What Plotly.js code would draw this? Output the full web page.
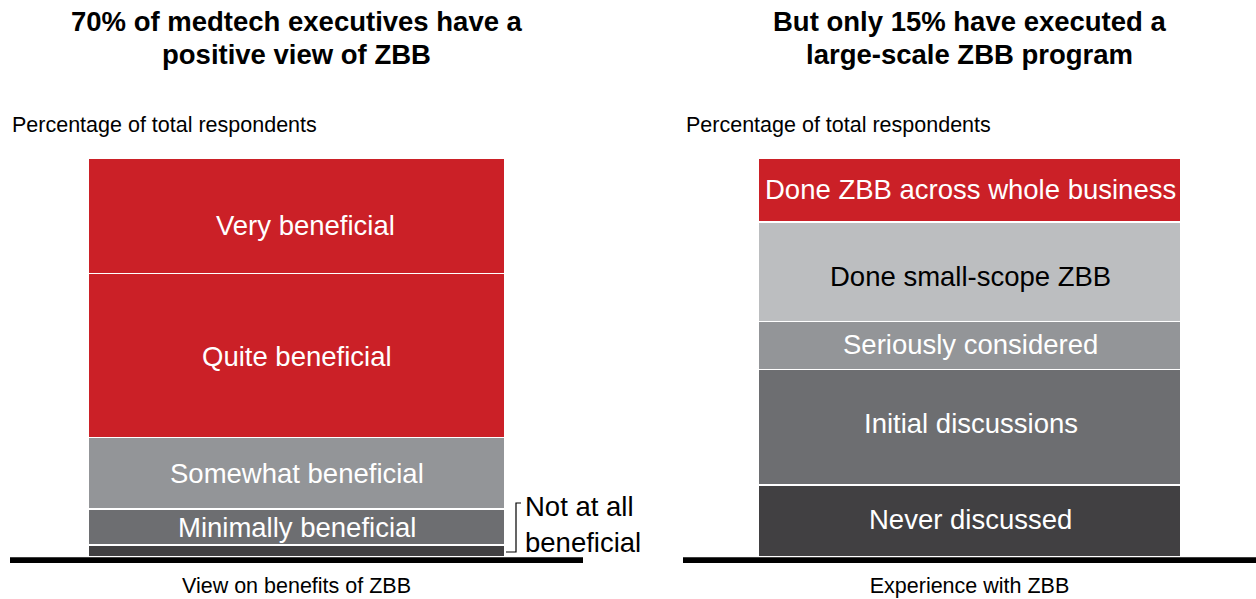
<!DOCTYPE html>
<html><head><meta charset="utf-8">
<script src="https://cdn.plot.ly/plotly-3.0.1.min.js"></script>
<style>html,body{margin:0;padding:0;background:#fff}#chart{width:1256px;height:599px}</style>
</head><body><div id="chart"></div>
<script>
// ---- data ----
const leftCategory = ["View on benefits of ZBB"];
const leftSegments = ["Not at all beneficial", "Minimally beneficial", "Somewhat beneficial", "Quite beneficial", "Very beneficial"];
const leftValues = [3, 9, 18, 41, 29];
const leftInsideLabel = [false, true, true, true, true];

const rightCategory = ["Experience with ZBB"];
const rightSegments = ["Never discussed", "Initial discussions", "Seriously considered", "Done small-scope ZBB", "Done ZBB across whole business"];
const rightValues = [18, 29, 12, 25, 16];

const leftTitle = ["70% of medtech executives have a", "positive view of ZBB"];
const rightTitle = ["But only 15% have executed a", "large-scale ZBB program"];
const subtitle = "Percentage of total respondents";
const outsideLabel = "Not at all<br>beneficial";

// ---- styles ----
const FONT = "Liberation Sans, Arial, Helvetica, sans-serif";
const LABEL_SIZE = 27.5;
const leftColors = ["#414042", "#6D6E71", "#939598", "#CB2027", "#CB2027"];
const leftTextColors = ["#ffffff", "#ffffff", "#ffffff", "#ffffff", "#ffffff"];
const leftLabelShift = [[0, 0], [0, 0], [0, 0], [0, -1], [9, -10]];   // [xshift px, yshift px]
const rightColors = ["#414042", "#6D6E71", "#939598", "#BCBEC0", "#CB2027"];
const rightTextColors = ["#ffffff", "#ffffff", "#ffffff", "#000000", "#ffffff"];
const rightLabelShift = [[1, 2], [1, 4], [1, 1], [1, -5], [1, 0]];

const traces = [];
const annotations = [];

function addStack(cat, names, values, colors, textColors, shifts, showLabel, width, xa, ya) {
  let base = 0;
  names.forEach((name, i) => {
    traces.push({
      type: "bar", name: name, x: cat, y: [values[i]],
      marker: {color: colors[i], line: {color: "#ffffff", width: 1.5}},
      width: [width], xaxis: xa, yaxis: ya,
      hoverinfo: "skip", showlegend: false
    });
    if (showLabel[i]) {
      annotations.push({
        text: name, xref: xa, yref: ya, x: cat[0], y: base + values[i] / 2,
        xanchor: "center", yanchor: "middle", showarrow: false,
        xshift: shifts[i][0], yshift: shifts[i][1],
        font: {family: FONT, size: LABEL_SIZE, color: textColors[i]}
      });
    }
    base += values[i];
  });
}
addStack(leftCategory, leftSegments, leftValues, leftColors, leftTextColors, leftLabelShift, leftInsideLabel, 0.726, "x", "y");
addStack(rightCategory, rightSegments, rightValues, rightColors, rightTextColors, rightLabelShift, rightSegments.map(() => true), 0.738, "x2", "y2");

const W = 1256, H = 599, ML = 10, MR = 0, MT = 158, MB = 42;
const PW = W - ML - MR, PH = H - MT - MB;
const px = v => (v - ML) / PW;           // pixel x -> paper
const py = v => (H - MB - v) / PH;       // pixel y -> paper

const xCommon = {
  type: "category", range: [-0.5, 0.5], showgrid: false, zeroline: false, showline: false,
  ticks: "", tickfont: {family: FONT, size: 21.5, color: "#000"}, automargin: false,
  fixedrange: true, ticklabelstandoff: 13
};

const titleFont = {family: FONT, size: 27.5, color: "#000"};
annotations.push(
  {text: "<b>" + leftTitle[0] + "</b>", xref: "x domain", yref: "paper", x: 0.5, y: py(21.5),
   xanchor: "center", yanchor: "middle", showarrow: false, font: titleFont},
  {text: "<b>" + leftTitle[1] + "</b>", xref: "x domain", yref: "paper", x: 0.5, y: py(54),
   xanchor: "center", yanchor: "middle", showarrow: false, font: titleFont},
  {text: "<b>" + rightTitle[0] + "</b>", xref: "x2 domain", yref: "paper", x: 0.5, y: py(21.5),
   xanchor: "center", yanchor: "middle", showarrow: false, font: titleFont},
  {text: "<b>" + rightTitle[1] + "</b>", xref: "x2 domain", yref: "paper", x: 0.5, y: py(54),
   xanchor: "center", yanchor: "middle", showarrow: false, font: titleFont},
  {text: subtitle, xref: "paper", yref: "paper", x: px(10), y: py(124.5),
   xanchor: "left", yanchor: "middle", showarrow: false, font: {family: FONT, size: 21.5, color: "#000"}},
  {text: subtitle, xref: "paper", yref: "paper", x: px(684), y: py(124.5),
   xanchor: "left", yanchor: "middle", showarrow: false, font: {family: FONT, size: 21.5, color: "#000"}},
  {text: outsideLabel, xref: "paper", yref: "paper", x: px(523), y: py(524), align: "left",
   xanchor: "left", yanchor: "middle", showarrow: false, font: {family: FONT, size: 27.5, color: "#000"}}
);

const layout = {
  width: W, height: H,
  margin: {l: ML, r: MR, t: MT, b: MB, pad: 0},
  paper_bgcolor: "#ffffff", plot_bgcolor: "rgba(0,0,0,0)",
  barmode: "stack", bargap: 0,
  font: {family: FONT, color: "#000"},
  xaxis: Object.assign({}, xCommon, {domain: [0, px(583)], anchor: "y"}),
  xaxis2: Object.assign({}, xCommon, {domain: [px(683), 1], anchor: "y2"}),
  yaxis: {range: [0, 100], visible: false, fixedrange: true, anchor: "x"},
  yaxis2: {range: [0, 100], visible: false, fixedrange: true, anchor: "x2"},
  shapes: [
    {type: "rect", xref: "x domain", yref: "paper", x0: 0, x1: 1, y0: py(557.3), y1: py(563),
     fillcolor: "#000", line: {width: 0}, layer: "above"},
    {type: "rect", xref: "x2 domain", yref: "paper", x0: 0, x1: 1, y0: py(557.3), y1: py(563),
     fillcolor: "#000", line: {width: 0}, layer: "above"},
    {type: "path", xref: "paper", yref: "paper",
     path: `M ${px(506)} ${py(552)} L ${px(516)} ${py(552)} L ${px(516)} ${py(503)} L ${px(521)} ${py(503)}`,
     line: {color: "#000", width: 1.2}}
  ],
  annotations: annotations
};

Plotly.newPlot("chart", traces, layout, {displayModeBar: false, staticPlot: true});
</script>
</body></html>
